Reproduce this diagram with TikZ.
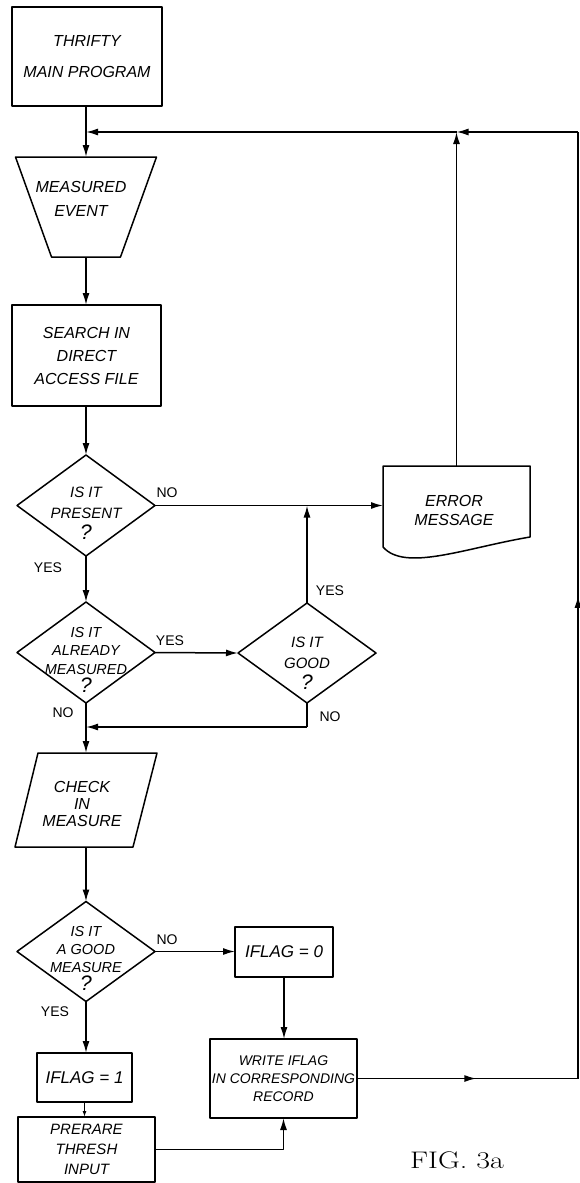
\documentclass[tikz,border=0pt]{standalone}
\usepackage{fontspec}
\newfontfamily\hand{Liberation Sans}
\usetikzlibrary{arrows.meta,decorations.markings}
\newcommand\bigq{{\fontsize{21}{21}\selectfont ?}}
\tikzset{
  ln/.style={line width=1.5pt, line join=round},
  tip/.style={-{Latex[length=12pt,width=7pt]}},
  arr/.style={ln, tip},
  box/.style={ln, draw, rectangle, align=center, inner sep=0pt, outer sep=0pt,
    font=\hand\itshape\fontsize{15}{21}\selectfont},
  shp/.style={inner sep=0pt, outer sep=0pt},
  txt/.style={align=center, inner sep=0pt, font=\hand\itshape\fontsize{15}{20}\selectfont},
  lbl/.style={inner sep=0pt, font=\hand\fontsize{14}{16}\selectfont},
  midarr/.style={postaction={decorate}, decoration={markings,
    mark=at position #1 with {\arrow{Latex[length=12pt,width=7pt]}}}},
}
\begin{document}
\begin{tikzpicture}[x=1pt,y=-1pt]
\useasboundingbox (0,0) rectangle (580,1183);

% ---- nodes ----
\node[box, minimum width=150, minimum height=99, font=\hand\itshape\fontsize{16}{31}\selectfont] (thrifty) at (87,56.5) {THRIFTY\\MAIN PROGRAM};

\node[shp, minimum width=141, minimum height=100] (meas) at (86,207) {};
\draw[ln] (meas.north west) -- (meas.north east) -- ([xshift=-36]meas.south east) -- ([xshift=36]meas.south west) -- cycle;
\node[txt, font=\hand\itshape\fontsize{16}{24}\selectfont] (meast) at (81,199) {MEASURED\\EVENT};

\node[box, minimum width=149, minimum height=101, font=\hand\itshape\fontsize{16}{23}\selectfont] (search) at (86.5,355.5) {SEARCH IN\\DIRECT\\ACCESS FILE};

\node[shp, minimum width=138, minimum height=101] (d1) at (86,505.5) {};
\draw[ln] (d1.north) -- (d1.east) -- (d1.south) -- (d1.west) -- cycle;
\node[txt, font=\hand\itshape\fontsize{15}{21}\selectfont] (d1t) at (86,513) {IS IT\\PRESENT\\\bigq};

\node[shp, minimum width=147, minimum height=82] (err) at (456.5,507) {};
\draw[ln] (383,547) -- (383,466) -- (530,466) -- (530,537) .. controls (465,548) and (405,572) .. (383,547);
\node[txt, font=\hand\itshape\fontsize{16}{19}\selectfont] (errt) at (454,510) {ERROR\\MESSAGE};

\node[shp, minimum width=138, minimum height=101] (d2) at (86,652.5) {};
\draw[ln] (d2.north) -- (d2.east) -- (d2.south) -- (d2.west) -- cycle;
\node[txt, font=\hand\itshape\fontsize{14.5}{18.5}\selectfont] (d2t) at (86,660) {IS IT\\ALREADY\\MEASURED\\\bigq};

\node[shp, minimum width=138, minimum height=100] (good) at (307,653) {};
\draw[ln] (good.north) -- (good.east) -- (good.south) -- (good.west) -- cycle;
\node[txt, font=\hand\itshape\fontsize{15}{21}\selectfont] (goodt) at (307,663) {IS IT\\GOOD\\\bigq};

\node[shp, minimum width=142, minimum height=94] (check) at (86,800) {};
\draw[ln] ([xshift=23]check.north west) -- (check.north east) -- ([xshift=-24]check.south east) -- (check.south west) -- cycle;
\node[txt, font=\hand\itshape\fontsize{16}{17}\selectfont] (checkt) at (82,804) {CHECK\\IN\\MEASURE};

\node[shp, minimum width=138, minimum height=100] (d3) at (86,951.5) {};
\draw[ln] (d3.north) -- (d3.east) -- (d3.south) -- (d3.west) -- cycle;
\node[txt, font=\hand\itshape\fontsize{14.5}{18}\selectfont] (d3t) at (86,958) {IS IT\\A GOOD\\MEASURE\\\bigq};

\node[box, minimum width=98, minimum height=50, font=\hand\itshape\fontsize{17}{18}\selectfont] (if0) at (284,952) {IFLAG = 0};
\node[box, minimum width=147, minimum height=79, font=\hand\itshape\fontsize{14}{18}\selectfont] (write) at (283.5,1078.5) {WRITE IFLAG\\IN CORRESPONDING\\RECORD};
\node[box, minimum width=95, minimum height=49, font=\hand\itshape\fontsize{17}{18}\selectfont] (if1) at (84.5,1077.5) {IFLAG = 1};
\node[box, minimum width=137, minimum height=65, font=\hand\itshape\fontsize{15}{20}\selectfont] (prep) at (86.5,1149.5) {PRERARE\\THRESH\\INPUT};

\node[inner sep=0pt] (fig) at (457,1160) {\scalebox{1.25}[1]{\fontsize{24}{28}\selectfont FIG. 3a}};

% ---- junction coordinates ----
\coordinate (j1) at (86,132);
\coordinate (jt) at (456.5,132);
\coordinate (rt) at (578,132);
\coordinate (rb) at (578,1078.5);
\coordinate (j2) at (86,727);
\coordinate (jy) at (307,505.5);

% ---- connectors ----
\draw[ln] (thrifty.south -| j1) -- (j1);
\draw[arr] (j1) -- (j1 |- meas.north);
\draw[arr] (meas.south) -- (meas.south |- search.north);
\draw[arr] (search.south -| d1.north) -- (d1.north);
\draw[arr] (d1.east) -- (d1.east -| err.west);
\draw[arr] (err.north |- 0,466) -- (jt);
\draw[ln, midarr=0.54] (write.east) -- (rb);
\draw[ln, midarr=0.51] (rb) -- (rt);
\draw[arr] (rt) -- (jt);
\draw[arr] (jt) -- (j1);
\draw[arr] (d1.south) -- (d2.north);
\draw[arr] (d2.east) -- (good.west);
\draw[arr] (good.north) -- (jy);
\draw[ln] (good.south) -- (good.south |- j2);
\draw[arr] (good.south |- j2) -- (j2);
\draw[arr] (d2.south) -- (check.north);
\draw[arr] (check.south) -- (d3.north);
\draw[arr] (d3.east) -- (d3.east -| if0.west);
\draw[arr] (if0.south) -- (if0.south |- write.north);
\draw[arr] (d3.south) -- (d3.south |- if1.north);
\draw[ln, -{Latex[length=6pt,width=4pt]}] (if1.south) -- (if1.south |- prep.north);
\draw[arr] (prep.east) -| (write.south);

% ---- labels ----
\node[lbl] (l1) at (167,493) {NO};
\node[lbl] (l2) at (48,568) {YES};
\node[lbl] (l3) at (170,641) {YES};
\node[lbl] (l4) at (63,713) {NO};
\node[lbl] (l5) at (330,591) {YES};
\node[lbl] (l6) at (330,717) {NO};
\node[lbl] (l7) at (167,940) {NO};
\node[lbl] (l8) at (55,1012) {YES};
\end{tikzpicture}
\end{document}
